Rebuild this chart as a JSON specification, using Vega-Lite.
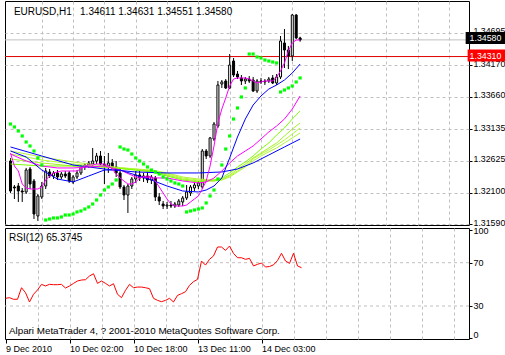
{
"$schema":"https://vega.github.io/schema/vega-lite/v6.json",
"background":"white",
"padding":{"left":3,"top":0,"right":0,"bottom":0},
"spacing":3,
"bounds":"flush",
"config":{"view":{"stroke":"black","strokeWidth":1},
"axis":{"labelFont":"Liberation Sans","labelFontSize":9,"labelColor":"black","tickColor":"black","gridColor":"#c0c0c0","gridDash":[3,3],"domain":false,"title":null,"tickCount":40},
"text":{"font":"Liberation Sans","fontSize":9}},
"datasets":{
"candles":[
{"i":0,"o":1.32618,"h":1.32667,"l":1.321,"c":1.32132},
{"i":1,"o":1.32197,"h":1.32229,"l":1.32002,"c":1.32181},
{"i":2,"o":1.32213,"h":1.32262,"l":1.31954,"c":1.32132},
{"i":3,"o":1.32132,"h":1.32181,"l":1.31954,"c":1.32116},
{"i":4,"o":1.32116,"h":1.32505,"l":1.32083,"c":1.32472},
{"i":5,"o":1.32488,"h":1.32521,"l":1.32164,"c":1.32245},
{"i":6,"o":1.32294,"h":1.32326,"l":1.31678,"c":1.31759},
{"i":7,"o":1.31727,"h":1.32083,"l":1.31646,"c":1.32051},
{"i":8,"o":1.32035,"h":1.32278,"l":1.32002,"c":1.32213},
{"i":9,"o":1.32213,"h":1.32505,"l":1.32164,"c":1.32456},
{"i":10,"o":1.3244,"h":1.32488,"l":1.32343,"c":1.32375},
{"i":11,"o":1.32375,"h":1.32456,"l":1.32326,"c":1.32424},
{"i":12,"o":1.32424,"h":1.32472,"l":1.3231,"c":1.32359},
{"i":13,"o":1.32359,"h":1.3244,"l":1.32326,"c":1.32407},
{"i":14,"o":1.32407,"h":1.32456,"l":1.32343,"c":1.32375},
{"i":15,"o":1.32424,"h":1.32456,"l":1.32262,"c":1.32294},
{"i":16,"o":1.32278,"h":1.32391,"l":1.32245,"c":1.32359},
{"i":17,"o":1.32359,"h":1.32472,"l":1.32326,"c":1.32424},
{"i":18,"o":1.32424,"h":1.32553,"l":1.32391,"c":1.32521},
{"i":19,"o":1.32521,"h":1.32586,"l":1.32472,"c":1.32553},
{"i":20,"o":1.32553,"h":1.32618,"l":1.32505,"c":1.32586},
{"i":21,"o":1.32569,"h":1.32829,"l":1.32521,"c":1.32618},
{"i":22,"o":1.32618,"h":1.32748,"l":1.32569,"c":1.32699},
{"i":23,"o":1.32699,"h":1.3278,"l":1.32521,"c":1.32569},
{"i":24,"o":1.32569,"h":1.32699,"l":1.32245,"c":1.32537},
{"i":25,"o":1.32537,"h":1.32748,"l":1.32424,"c":1.32586},
{"i":26,"o":1.32586,"h":1.3265,"l":1.32488,"c":1.32521},
{"i":27,"o":1.32521,"h":1.32618,"l":1.32359,"c":1.32424},
{"i":28,"o":1.32424,"h":1.32488,"l":1.32164,"c":1.32197},
{"i":29,"o":1.32197,"h":1.32229,"l":1.31986,"c":1.32067},
{"i":30,"o":1.32067,"h":1.32245,"l":1.31776,"c":1.32213},
{"i":31,"o":1.32213,"h":1.32359,"l":1.32164,"c":1.32326},
{"i":32,"o":1.32326,"h":1.32456,"l":1.32262,"c":1.32391},
{"i":33,"o":1.32391,"h":1.32456,"l":1.32294,"c":1.32343},
{"i":34,"o":1.32343,"h":1.32424,"l":1.32278,"c":1.32375},
{"i":35,"o":1.32375,"h":1.3244,"l":1.32262,"c":1.3231},
{"i":36,"o":1.3231,"h":1.32391,"l":1.32245,"c":1.32359},
{"i":37,"o":1.32343,"h":1.32375,"l":1.3197,"c":1.32035},
{"i":38,"o":1.32035,"h":1.321,"l":1.31905,"c":1.3197},
{"i":39,"o":1.31921,"h":1.3197,"l":1.3184,"c":1.31889},
{"i":40,"o":1.31889,"h":1.31954,"l":1.3184,"c":1.31905},
{"i":41,"o":1.31905,"h":1.3197,"l":1.31857,"c":1.31889},
{"i":42,"o":1.31889,"h":1.31954,"l":1.31857,"c":1.31921},
{"i":43,"o":1.31905,"h":1.32002,"l":1.31873,"c":1.3197},
{"i":44,"o":1.31954,"h":1.32051,"l":1.31889,"c":1.32019},
{"i":45,"o":1.32019,"h":1.32229,"l":1.31986,"c":1.32116},
{"i":46,"o":1.321,"h":1.32229,"l":1.32051,"c":1.32197},
{"i":47,"o":1.32181,"h":1.32262,"l":1.32132,"c":1.32229},
{"i":48,"o":1.32213,"h":1.32294,"l":1.32164,"c":1.32262},
{"i":49,"o":1.32197,"h":1.32812,"l":1.32164,"c":1.3278},
{"i":50,"o":1.3278,"h":1.32812,"l":1.3265,"c":1.32699},
{"i":51,"o":1.32699,"h":1.33007,"l":1.32667,"c":1.32991},
{"i":52,"o":1.32974,"h":1.3325,"l":1.32942,"c":1.33217},
{"i":53,"o":1.33185,"h":1.33914,"l":1.33153,"c":1.33849},
{"i":54,"o":1.33865,"h":1.3393,"l":1.33801,"c":1.33898},
{"i":55,"o":1.33914,"h":1.33946,"l":1.33784,"c":1.33801},
{"i":56,"o":1.33801,"h":1.34351,"l":1.33784,"c":1.34173},
{"i":57,"o":1.34238,"h":1.34287,"l":1.33979,"c":1.34011},
{"i":58,"o":1.34027,"h":1.34076,"l":1.33946,"c":1.33979},
{"i":59,"o":1.33963,"h":1.34011,"l":1.33849,"c":1.33914},
{"i":60,"o":1.33914,"h":1.33979,"l":1.33865,"c":1.33946},
{"i":61,"o":1.33946,"h":1.33995,"l":1.33882,"c":1.33914},
{"i":62,"o":1.3393,"h":1.33979,"l":1.33736,"c":1.33752},
{"i":63,"o":1.33752,"h":1.33946,"l":1.3372,"c":1.33914},
{"i":64,"o":1.33914,"h":1.33963,"l":1.33865,"c":1.33898},
{"i":65,"o":1.33898,"h":1.33946,"l":1.33849,"c":1.33914},
{"i":66,"o":1.33914,"h":1.33979,"l":1.33882,"c":1.33946},
{"i":67,"o":1.33963,"h":1.34011,"l":1.33865,"c":1.33882},
{"i":68,"o":1.33882,"h":1.34027,"l":1.33849,"c":1.33979},
{"i":69,"o":1.33979,"h":1.34643,"l":1.33946,"c":1.34562},
{"i":70,"o":1.3453,"h":1.34756,"l":1.34125,"c":1.34416},
{"i":71,"o":1.34416,"h":1.34481,"l":1.34108,"c":1.34319},
{"i":72,"o":1.34319,"h":1.34999,"l":1.34238,"c":1.34983},
{"i":73,"o":1.34983,"h":1.34999,"l":1.34594,"c":1.34611},
{"i":74,"o":1.34611,"h":1.34631,"l":1.34551,"c":1.3458}
],
"sar":[
{"i":0,"v":1.33217},{"i":1,"v":1.33169},{"i":2,"v":1.33104},{"i":3,"v":1.33023},{"i":4,"v":1.32926},{"i":5,"v":1.32861},{"i":6,"v":1.3278},{"i":7,"v":1.32667},{"i":8,"v":1.32553},
{"i":9,"v":1.31662},{"i":10,"v":1.31678},{"i":11,"v":1.31695},{"i":12,"v":1.31695},{"i":13,"v":1.31711},{"i":14,"v":1.31743},{"i":15,"v":1.31743},{"i":16,"v":1.31759},{"i":17,"v":1.31792},{"i":18,"v":1.31808},{"i":19,"v":1.3184},{"i":20,"v":1.31873},{"i":21,"v":1.31921},{"i":22,"v":1.31986},{"i":23,"v":1.32067},{"i":24,"v":1.32148},{"i":25,"v":1.32197},{"i":26,"v":1.32245},{"i":27,"v":1.3231},
{"i":28,"v":1.32845},{"i":29,"v":1.32812},{"i":30,"v":1.32796},{"i":31,"v":1.32731},{"i":32,"v":1.32667},{"i":33,"v":1.32618},{"i":34,"v":1.32569},{"i":35,"v":1.32521},{"i":36,"v":1.32472},{"i":37,"v":1.3244},{"i":38,"v":1.32407},{"i":39,"v":1.32359},{"i":40,"v":1.32326},{"i":41,"v":1.32294},{"i":42,"v":1.32262},{"i":43,"v":1.32245},{"i":44,"v":1.32213},
{"i":45,"v":1.31792},{"i":46,"v":1.31808},{"i":47,"v":1.31824},{"i":48,"v":1.3184},{"i":49,"v":1.31857},{"i":50,"v":1.31938},{"i":51,"v":1.32051},{"i":52,"v":1.32148},{"i":53,"v":1.32326},{"i":54,"v":1.32553},{"i":55,"v":1.32812},{"i":56,"v":1.33023},{"i":57,"v":1.33298},{"i":58,"v":1.33477},{"i":59,"v":1.33655},{"i":60,"v":1.33801},
{"i":61,"v":1.34351},{"i":62,"v":1.34351},{"i":63,"v":1.34303},{"i":64,"v":1.34287},{"i":65,"v":1.34254},{"i":66,"v":1.34238},{"i":67,"v":1.34222},{"i":68,"v":1.34206},
{"i":69,"v":1.33736},{"i":70,"v":1.33768},{"i":71,"v":1.33801},{"i":72,"v":1.33833},{"i":73,"v":1.33898},{"i":74,"v":1.33963}
],
"rsi":[
{"i":0,"v":37.1},{"i":1,"v":37.7},{"i":2,"v":36.2},{"i":3,"v":36.2},{"i":4,"v":46.9},{"i":5,"v":42.3},{"i":6,"v":33.7},{"i":7,"v":40.8},{"i":8,"v":44.8},{"i":9,"v":50},{"i":10,"v":48.5},{"i":11,"v":50},{"i":12,"v":49.7},{"i":13,"v":49.7},{"i":14,"v":50},{"i":15,"v":46.6},{"i":16,"v":48.5},{"i":17,"v":50.9},{"i":18,"v":53.1},{"i":19,"v":54},{"i":20,"v":54.3},{"i":21,"v":57.7},{"i":22,"v":59.8},{"i":23,"v":50.9},{"i":24,"v":53.1},{"i":25,"v":50.9},{"i":26,"v":48.5},{"i":27,"v":50.6},{"i":28,"v":40.8},{"i":29,"v":37.7},{"i":30,"v":44.5},{"i":31,"v":50},{"i":32,"v":46.9},{"i":33,"v":47.5},{"i":34,"v":47.5},{"i":35,"v":46.9},{"i":36,"v":46},{"i":37,"v":37.1},{"i":38,"v":35.2},{"i":39,"v":34},{"i":40,"v":35.2},{"i":41,"v":37.1},{"i":42,"v":33.7},{"i":43,"v":39.8},{"i":44,"v":41.4},{"i":45,"v":43.2},{"i":46,"v":49.1},{"i":47,"v":52.5},{"i":48,"v":54.6},{"i":49,"v":71.5},{"i":50,"v":67.8},{"i":51,"v":73.1},{"i":52,"v":76.2},{"i":53,"v":84.5},{"i":54,"v":84.5},{"i":55,"v":81.4},{"i":56,"v":85.4},{"i":57,"v":78.6},{"i":58,"v":74.6},{"i":59,"v":74.6},{"i":60,"v":73.1},{"i":61,"v":74},{"i":62,"v":67},{"i":63,"v":68.5},{"i":64,"v":69.7},{"i":65,"v":66},{"i":66,"v":66.5},{"i":67,"v":68},{"i":68,"v":72},{"i":69,"v":78.7},{"i":70,"v":71.6},{"i":71,"v":69.4},{"i":72,"v":78.7},{"i":73,"v":67},{"i":74,"v":65.37}
],
"ma":[
{"i":0,"m":"G4","v":1.3278},{"i":8,"m":"G4","v":1.32683},{"i":16,"m":"G4","v":1.32602},{"i":24,"m":"G4","v":1.32537},{"i":32,"m":"G4","v":1.32488},{"i":36,"m":"G4","v":1.32472},{"i":40,"m":"G4","v":1.32424},{"i":44,"m":"G4","v":1.32359},{"i":48,"m":"G4","v":1.32326},{"i":52,"m":"G4","v":1.3231},{"i":54,"m":"G4","v":1.3231},{"i":56,"m":"G4","v":1.32359},{"i":58,"m":"G4","v":1.3244},{"i":60,"m":"G4","v":1.32521},{"i":62,"m":"G4","v":1.32618},{"i":64,"m":"G4","v":1.32699},{"i":66,"m":"G4","v":1.32764},{"i":68,"m":"G4","v":1.32829},{"i":70,"m":"G4","v":1.3291},{"i":72,"m":"G4","v":1.32991},{"i":74,"m":"G4","v":1.33072},
{"i":0,"m":"G3","v":1.32731},{"i":8,"m":"G3","v":1.32634},{"i":16,"m":"G3","v":1.32569},{"i":24,"m":"G3","v":1.32521},{"i":32,"m":"G3","v":1.32488},{"i":36,"m":"G3","v":1.32456},{"i":40,"m":"G3","v":1.32407},{"i":44,"m":"G3","v":1.32343},{"i":48,"m":"G3","v":1.3231},{"i":52,"m":"G3","v":1.32294},{"i":54,"m":"G3","v":1.3231},{"i":56,"m":"G3","v":1.32375},{"i":58,"m":"G3","v":1.32456},{"i":60,"m":"G3","v":1.32537},{"i":62,"m":"G3","v":1.3265},{"i":64,"m":"G3","v":1.32731},{"i":66,"m":"G3","v":1.32796},{"i":68,"m":"G3","v":1.32877},{"i":70,"m":"G3","v":1.32958},{"i":72,"m":"G3","v":1.33055},{"i":74,"m":"G3","v":1.33153},
{"i":0,"m":"G2","v":1.3265},{"i":8,"m":"G2","v":1.32586},{"i":16,"m":"G2","v":1.32537},{"i":24,"m":"G2","v":1.32521},{"i":32,"m":"G2","v":1.32472},{"i":36,"m":"G2","v":1.32456},{"i":40,"m":"G2","v":1.32391},{"i":44,"m":"G2","v":1.32326},{"i":48,"m":"G2","v":1.32294},{"i":52,"m":"G2","v":1.32294},{"i":54,"m":"G2","v":1.32326},{"i":56,"m":"G2","v":1.32391},{"i":58,"m":"G2","v":1.32488},{"i":60,"m":"G2","v":1.32569},{"i":62,"m":"G2","v":1.32667},{"i":64,"m":"G2","v":1.32748},{"i":66,"m":"G2","v":1.32829},{"i":68,"m":"G2","v":1.3291},{"i":70,"m":"G2","v":1.33023},{"i":72,"m":"G2","v":1.33136},{"i":74,"m":"G2","v":1.33234},
{"i":0,"m":"G1","v":1.32569},{"i":8,"m":"G1","v":1.32537},{"i":16,"m":"G1","v":1.32537},{"i":24,"m":"G1","v":1.32521},{"i":32,"m":"G1","v":1.32472},{"i":36,"m":"G1","v":1.3244},{"i":40,"m":"G1","v":1.32375},{"i":44,"m":"G1","v":1.3231},{"i":48,"m":"G1","v":1.32278},{"i":52,"m":"G1","v":1.3231},{"i":54,"m":"G1","v":1.32343},{"i":56,"m":"G1","v":1.32424},{"i":58,"m":"G1","v":1.32521},{"i":60,"m":"G1","v":1.32602},{"i":62,"m":"G1","v":1.32699},{"i":64,"m":"G1","v":1.32812},{"i":66,"m":"G1","v":1.3291},{"i":68,"m":"G1","v":1.33039},{"i":70,"m":"G1","v":1.33153},{"i":72,"m":"G1","v":1.33298},{"i":74,"m":"G1","v":1.33428},
{"i":0,"m":"B2","v":1.32845},{"i":8,"m":"B2","v":1.32699},{"i":16,"m":"B2","v":1.32553},{"i":24,"m":"B2","v":1.32488},{"i":32,"m":"B2","v":1.3244},{"i":40,"m":"B2","v":1.32424},{"i":48,"m":"B2","v":1.32424},{"i":54,"m":"B2","v":1.3244},{"i":58,"m":"B2","v":1.32488},{"i":62,"m":"B2","v":1.32586},{"i":66,"m":"B2","v":1.32715},{"i":70,"m":"B2","v":1.32845},{"i":74,"m":"B2","v":1.32974},
{"i":0,"m":"M2","v":1.32731},{"i":4,"m":"M2","v":1.32618},{"i":8,"m":"M2","v":1.32537},{"i":12,"m":"M2","v":1.32505},{"i":16,"m":"M2","v":1.32505},{"i":20,"m":"M2","v":1.32521},{"i":24,"m":"M2","v":1.32537},{"i":28,"m":"M2","v":1.32472},{"i":32,"m":"M2","v":1.32359},{"i":36,"m":"M2","v":1.32343},{"i":40,"m":"M2","v":1.32343},{"i":44,"m":"M2","v":1.32294},{"i":48,"m":"M2","v":1.32262},{"i":50,"m":"M2","v":1.32278},{"i":52,"m":"M2","v":1.32343},{"i":54,"m":"M2","v":1.32456},{"i":56,"m":"M2","v":1.32586},{"i":58,"m":"M2","v":1.32699},{"i":60,"m":"M2","v":1.3278},{"i":62,"m":"M2","v":1.32861},{"i":64,"m":"M2","v":1.32974},{"i":66,"m":"M2","v":1.33088},{"i":68,"m":"M2","v":1.33185},{"i":70,"m":"M2","v":1.33298},{"i":72,"m":"M2","v":1.3346},{"i":74,"m":"M2","v":1.33671},
{"i":0,"m":"B1","v":1.3278},{"i":4,"m":"B1","v":1.32683},{"i":8,"m":"B1","v":1.32472},{"i":12,"m":"B1","v":1.32326},{"i":16,"m":"B1","v":1.32278},{"i":20,"m":"B1","v":1.32375},{"i":24,"m":"B1","v":1.32472},{"i":28,"m":"B1","v":1.32472},{"i":32,"m":"B1","v":1.32391},{"i":36,"m":"B1","v":1.3231},{"i":40,"m":"B1","v":1.32213},{"i":44,"m":"B1","v":1.32132},{"i":48,"m":"B1","v":1.32116},{"i":50,"m":"B1","v":1.32148},{"i":52,"m":"B1","v":1.32213},{"i":54,"m":"B1","v":1.32343},{"i":56,"m":"B1","v":1.32667},{"i":58,"m":"B1","v":1.33007},{"i":60,"m":"B1","v":1.33298},{"i":62,"m":"B1","v":1.33525},{"i":64,"m":"B1","v":1.33671},{"i":66,"m":"B1","v":1.33784},{"i":68,"m":"B1","v":1.33849},{"i":70,"m":"B1","v":1.3393},{"i":72,"m":"B1","v":1.34044},{"i":74,"m":"B1","v":1.34189},
{"i":0,"m":"M1","v":1.32748},{"i":1,"m":"M1","v":1.32537},{"i":2,"m":"M1","v":1.32456},{"i":3,"m":"M1","v":1.32245},{"i":4,"m":"M1","v":1.32181},{"i":5,"m":"M1","v":1.32164},{"i":6,"m":"M1","v":1.32164},{"i":7,"m":"M1","v":1.32164},{"i":8,"m":"M1","v":1.32197},{"i":9,"m":"M1","v":1.3231},{"i":10,"m":"M1","v":1.32375},{"i":11,"m":"M1","v":1.32424},{"i":12,"m":"M1","v":1.3244},{"i":13,"m":"M1","v":1.32456},{"i":14,"m":"M1","v":1.32456},{"i":15,"m":"M1","v":1.32456},{"i":16,"m":"M1","v":1.32456},{"i":17,"m":"M1","v":1.32456},{"i":18,"m":"M1","v":1.32488},{"i":19,"m":"M1","v":1.32537},{"i":20,"m":"M1","v":1.32553},{"i":21,"m":"M1","v":1.32553},{"i":22,"m":"M1","v":1.32569},{"i":23,"m":"M1","v":1.32569},{"i":24,"m":"M1","v":1.32569},{"i":25,"m":"M1","v":1.32537},{"i":26,"m":"M1","v":1.32488},{"i":27,"m":"M1","v":1.32407},{"i":28,"m":"M1","v":1.32343},{"i":29,"m":"M1","v":1.32294},{"i":30,"m":"M1","v":1.32245},{"i":31,"m":"M1","v":1.32245},{"i":32,"m":"M1","v":1.32278},{"i":33,"m":"M1","v":1.32343},{"i":34,"m":"M1","v":1.32359},{"i":35,"m":"M1","v":1.32375},{"i":36,"m":"M1","v":1.32359},{"i":37,"m":"M1","v":1.32294},{"i":38,"m":"M1","v":1.32197},{"i":39,"m":"M1","v":1.321},{"i":40,"m":"M1","v":1.32002},{"i":41,"m":"M1","v":1.31921},{"i":42,"m":"M1","v":1.31889},{"i":43,"m":"M1","v":1.31889},{"i":44,"m":"M1","v":1.31889},{"i":45,"m":"M1","v":1.31905},{"i":46,"m":"M1","v":1.31954},{"i":47,"m":"M1","v":1.32002},{"i":48,"m":"M1","v":1.32051},{"i":49,"m":"M1","v":1.32164},{"i":50,"m":"M1","v":1.32294},{"i":51,"m":"M1","v":1.32537},{"i":52,"m":"M1","v":1.32861},{"i":53,"m":"M1","v":1.33234},{"i":54,"m":"M1","v":1.3346},{"i":55,"m":"M1","v":1.33639},{"i":56,"m":"M1","v":1.33833},{"i":57,"m":"M1","v":1.33946},{"i":58,"m":"M1","v":1.33963},{"i":59,"m":"M1","v":1.33963},{"i":60,"m":"M1","v":1.33963},{"i":61,"m":"M1","v":1.33946},{"i":62,"m":"M1","v":1.33914},{"i":63,"m":"M1","v":1.33882},{"i":64,"m":"M1","v":1.33898},{"i":65,"m":"M1","v":1.33914},{"i":66,"m":"M1","v":1.33914},{"i":67,"m":"M1","v":1.33914},{"i":68,"m":"M1","v":1.33979},{"i":69,"m":"M1","v":1.34076},{"i":70,"m":"M1","v":1.34206},{"i":71,"m":"M1","v":1.344},{"i":72,"m":"M1","v":1.3453},{"i":73,"m":"M1","v":1.34578},{"i":74,"m":"M1","v":1.34578}
]
},
"vconcat":[
{"width":464,"height":224,
"layer":[
{"data":{"values":[{}]},"mark":{"type":"rule","color":"#c0c0c0","strokeWidth":1},
 "encoding":{"y":{"datum":1.3458,"type":"quantitative"}}},
{"data":{"values":[{}]},"mark":{"type":"rule","color":"#e00000","strokeWidth":1},
 "encoding":{"y":{"datum":1.3431,"type":"quantitative"}}},
{"data":{"name":"candles"},"mark":{"type":"rule","color":"black","strokeWidth":1},
 "encoding":{
  "x":{"field":"i","type":"quantitative","scale":{"domain":[-0.125,115.875],"nice":false,"zero":false},
   "axis":{"values":[8,16,24,32,40,48,56,64,72,80,88,96,104,112],"labels":false,"ticks":false,"grid":true,"tickCount":40}},
  "y":{"field":"l","type":"quantitative","scale":{"domain":[1.31581,1.3521],"nice":false,"zero":false},
   "axis":{"orient":"right","values":[1.3159,1.321,1.32625,1.33135,1.3366,1.3417,1.34695],"format":".5f","grid":true,"tickSize":3,"labelPadding":1,"labelBaseline":"middle","labelOffset":-2,"labelFlush":false,"labelOverlap":false,"labelFontSize":8.8,"tickCount":40}},
  "y2":{"field":"h"}}},
{"data":{"name":"candles"},"mark":{"type":"bar","width":2,"stroke":"black","strokeWidth":1},
 "encoding":{"x":{"field":"i","type":"quantitative"},"y":{"field":"o","type":"quantitative"},"y2":{"field":"c"},
  "fill":{"condition":{"test":"datum.c >= datum.o","value":"white"},"value":"black"}}},
{"data":{"name":"ma"},"mark":{"type":"line","strokeWidth":1},
 "encoding":{"x":{"field":"i","type":"quantitative"},"y":{"field":"v","type":"quantitative"},
  "color":{"field":"m","type":"nominal","legend":null,"scale":{"domain":["G4","G3","G2","G1","B2","M2","B1","M1"],"range":["#b4f040","#adff2f","#a8f028","#7cfc00","#0000ff","#ff00ff","#0000ff","#ff00ff"]}},
  "order":{"field":"i","type":"quantitative"}}},
{"data":{"name":"sar"},"mark":{"type":"square","size":10,"color":"#00ff00","opacity":1},
 "encoding":{"x":{"field":"i","type":"quantitative"},"y":{"field":"v","type":"quantitative"}}},
{"data":{"values":[{}]},"mark":{"type":"text","align":"left","baseline":"alphabetic","color":"black","fontSize":10},
 "encoding":{"x":{"datum":0.875,"type":"quantitative"},"y":{"datum":1.34983,"type":"quantitative"},
  "text":{"value":"EURUSD,H1\u00a0\u00a0 1.34611 1.34631 1.34551 1.34580"}}},
{"data":{"values":[{}]},"mark":{"type":"rect","color":"black","yOffset":-8,"y2Offset":4},
 "encoding":{"x":{"datum":116.3,"type":"quantitative"},"x2":{"datum":127},"y":{"datum":1.3458,"type":"quantitative"},"y2":{"datum":1.3458}}},
{"data":{"values":[{}]},"mark":{"type":"text","align":"left","baseline":"middle","color":"white","dy":-2,"fontSize":8.8},
 "encoding":{"x":{"datum":117.3,"type":"quantitative"},"y":{"datum":1.3458,"type":"quantitative"},"text":{"value":"1.34580"}}},
{"data":{"values":[{}]},"mark":{"type":"rect","color":"#ff0000","yOffset":-7,"y2Offset":5},
 "encoding":{"x":{"datum":116.8,"type":"quantitative"},"x2":{"datum":127},"y":{"datum":1.3431,"type":"quantitative"},"y2":{"datum":1.3431}}},
{"data":{"values":[{}]},"mark":{"type":"text","align":"left","baseline":"middle","color":"white","dy":-1,"fontSize":8.8},
 "encoding":{"x":{"datum":117.3,"type":"quantitative"},"y":{"datum":1.3431,"type":"quantitative"},"text":{"value":"1.34310"}}}
]},
{"width":464,"height":111,
"layer":[
{"data":{"values":[{}]},"mark":{"type":"rule","color":"#c0c0c0","strokeDash":[3,3],"strokeWidth":1},
 "encoding":{"y":{"datum":30,"type":"quantitative"}}},
{"data":{"values":[{}]},"mark":{"type":"rule","color":"#c0c0c0","strokeDash":[3,3],"strokeWidth":1},
 "encoding":{"y":{"datum":70,"type":"quantitative"}}},
{"data":{"name":"rsi"},"mark":{"type":"line","color":"#ff0000","strokeWidth":1},
 "encoding":{
  "x":{"field":"i","type":"quantitative","scale":{"domain":[-0.125,115.875],"nice":false,"zero":false},
   "axis":{"values":[0,8,16,24,32,40,48,56,64,72,80,88,96,104,112],"grid":true,"tickCount":40,
    "gridOpacity":{"condition":{"test":"datum.value == 0","value":0},"value":1},
    "tickOpacity":{"condition":{"test":"datum.value % 16 == 0 && datum.value <= 64","value":1},"value":0},
    "labelExpr":"datum.value == 0 ? '9 Dec 2010' : datum.value == 16 ? '10 Dec 02:00' : datum.value == 32 ? '10 Dec 18:00' : datum.value == 48 ? '13 Dec 11:00' : datum.value == 64 ? '14 Dec 03:00' : ''",
    "labelAlign":"left","labelFlush":false,"labelOverlap":false,"tickSize":4,"labelPadding":1}},
  "y":{"field":"v","type":"quantitative","scale":{"domain":[-0.49,102.06],"nice":false,"zero":false},
   "axis":{"orient":"right","values":[0,30,70,100],"grid":false,"tickSize":3,"labelPadding":1,"labelFlush":true,"labelFlushOffset":1,"labelOverlap":false,"tickCount":40}}}},
{"data":{"values":[{}]},"mark":{"type":"text","align":"left","baseline":"alphabetic","color":"black","fontSize":10},
 "encoding":{"x":{"datum":0.875,"type":"quantitative"},"y":{"datum":90.3,"type":"quantitative"},"text":{"value":"RSI(12) 65.3745"}}},
{"data":{"values":[{}]},"mark":{"type":"text","align":"left","baseline":"alphabetic","color":"black","fontSize":9.8},
 "encoding":{"x":{"datum":0.875,"type":"quantitative"},"y":{"datum":4.1,"type":"quantitative"},"text":{"value":"Alpari MetaTrader 4, ? 2001-2010 MetaQuotes Software Corp."}}}
]}
]
}
